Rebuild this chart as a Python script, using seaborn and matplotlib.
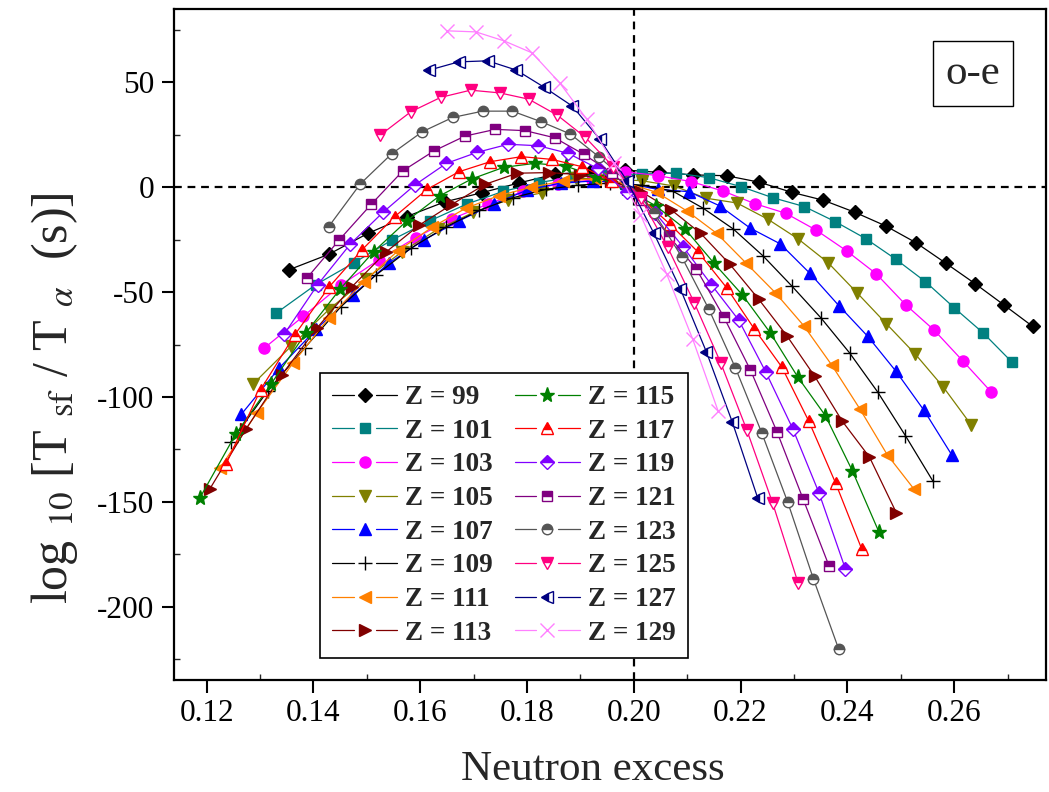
import matplotlib
matplotlib.use("Agg")
import matplotlib.pyplot as plt
import seaborn as sns
import pandas as pd
import numpy as np
from matplotlib.ticker import MultipleLocator, FormatStrFormatter
from matplotlib.lines import Line2D
from matplotlib.legend_handler import HandlerLine2D

# ---------------- data (neutron excess, log10 Tsf/Talpha) ----------------
x99 = [0.13537, 0.14286, 0.15021, 0.15745, 0.16456, 0.17155, 0.17842, 0.18519, 0.19184, 0.19838, 0.20482, 0.21116,
       0.21739, 0.22353, 0.22957, 0.23552, 0.24138, 0.24715, 0.25283, 0.25843, 0.26394, 0.26937, 0.27473]
y99 = [-39.4, -32.0, -22, -14, -7, -2.6, 2, 6.2, 7.5, 8.2, 7.1, 5.9, 5.5, 2.4, -2.4, -6.2, -11.9, -18.4, -26.4,
       -36.2, -46.0, -56.2, -66.4]

x101 = [0.13305, 0.14043, 0.14768, 0.15481, 0.16183, 0.16872, 0.17551, 0.18219, 0.18876, 0.19522, 0.20158, 0.20784,
        0.21401, 0.22008, 0.22605, 0.23194, 0.23774, 0.24345, 0.24907, 0.25461, 0.26007, 0.26545, 0.27076]
y101 = [-60, -46.5, -35.9, -25, -16, -8, -2, 2.2, 5, 6, 6.3, 6.8, 4.6, 0.3, -5, -9.2, -16.4, -24.5, -34.3, -45,
        -57.6, -69.5, -83.2]

x103 = [0.13080, 0.13808, 0.14523, 0.15226, 0.15918, 0.16599, 0.17269, 0.17928, 0.18577, 0.19216, 0.19844, 0.20463,
        0.21073, 0.21673, 0.22264, 0.22846, 0.23420, 0.23985, 0.24542, 0.25091, 0.25632, 0.26165, 0.26690]
y103 = [-76.7, -61.6, -46.5, -34.6, -24, -15, -8, -2, 1.5, 3.5, 7.4, 5.5, 2.7, -1.8, -7.8, -12.4, -20.5, -30.3,
        -41.3, -56, -68.3, -82.9, -97.5]

x105 = [0.12863, 0.13580, 0.14286, 0.14980, 0.15663, 0.16335, 0.16996, 0.17647, 0.18288, 0.18919, 0.19540, 0.20152,
        0.20755, 0.21348, 0.21933, 0.22509, 0.23077, 0.23636, 0.24188, 0.24731, 0.25267, 0.25795, 0.26316]
y105 = [-94, -75.9, -58.4, -43.8, -30.7, -20, -12, -6, -2.6, 4.3, 4, 3.1, 0.6, -5.2, -7.5, -15.2, -24.6, -35.9,
        -50.5, -65.1, -79.4, -95.2, -113.2]

x107 = [0.12653, 0.13360, 0.14056, 0.14741, 0.15415, 0.16078, 0.16732, 0.17375, 0.18008, 0.18631, 0.19245, 0.19850,
        0.20446, 0.21033, 0.21612, 0.22182, 0.22744, 0.23297, 0.23843, 0.24382, 0.24912, 0.25436, 0.25952]
y107 = [-108.2, -86.2, -67.6, -51.3, -36.2, -25, -16, -8, -1.3, 2, 3, 2, -1, -2.1, -8.9, -19.5, -27, -41, -56.5,
        -71.1, -87.8, -106.4, -127.5]

x109 = [0.12450, 0.13147, 0.13834, 0.14510, 0.15175, 0.15830, 0.16475, 0.17110, 0.17736, 0.18352, 0.18959, 0.19557,
        0.20147, 0.20727, 0.21300, 0.21864, 0.22420, 0.22968, 0.23509, 0.24042, 0.24567, 0.25086, 0.25597]
y109 = [-121.6, -97, -76.7, -57.1, -41.8, -29, -19, -11, -5, -1, 1, 2, 1, -1.8, -10, -19.9, -32.7, -47.3, -62.4,
        -79, -97.6, -118.4, -139.9]

x111 = [0.12253, 0.12941, 0.13619, 0.14286, 0.14943, 0.15589, 0.16226, 0.16854, 0.17472, 0.18081, 0.18681, 0.19273,
        0.19856, 0.20430, 0.20996, 0.21555, 0.22105, 0.22648, 0.23183, 0.23711, 0.24232, 0.24746, 0.25253]
y111 = [-133.8, -107.6, -83.8, -62.4, -45, -30.2, -19, -10, -4, 0, 3, 4, 2, -2.4, -11.3, -22, -36.2, -50.2, -66,
        -84.9, -105.6, -127.5, -144.1]

x113 = [0.12062, 0.12741, 0.13410, 0.14068, 0.14717, 0.15356, 0.15985, 0.16605, 0.17216, 0.17818, 0.18412, 0.18996,
        0.19573, 0.20141, 0.20702, 0.21254, 0.21799, 0.22337, 0.22867, 0.23390, 0.23906, 0.24415, 0.24917]
y113 = [-143.8, -115.2, -89.4, -67.1, -47.6, -31, -18, -8, 1.4, 6.7, 7, 6, 3, -2.1, -10.8, -22, -36.7, -53.3,
        -70.8, -90.2, -111.6, -128.7, -155.2]

x115 = [0.11877, 0.12548, 0.13208, 0.13858, 0.14498, 0.15129, 0.15751, 0.16364, 0.16968, 0.17563, 0.18149, 0.18728,
        0.19298, 0.19861, 0.20415, 0.20962, 0.21502, 0.22034, 0.22559, 0.23077, 0.23588, 0.24092, 0.24590]
y115 = [-148, -117.6, -93.8, -69.5, -48.6, -30.7, -16, -4.1, 4, 9.5, 11.4, 10.1, 5.0, -1, -8.9, -19.9, -36.2,
        -51.3, -69.5, -90.7, -108.9, -135.1, -164.3]

x117 = [0.12360, 0.13011, 0.13653, 0.14286, 0.14909, 0.15523, 0.16129, 0.16726, 0.17314, 0.17895, 0.18467, 0.19031,
        0.19588, 0.20137, 0.20678, 0.21212, 0.21739, 0.22259, 0.22772, 0.23279, 0.23779, 0.24272]
y117 = [-132.2, -96.5, -70.3, -47.8, -29.9, -14, -1, 7.4, 12.2, 14.6, 13.3, 9.8, 3, -5.2, -17.6, -31.1, -47.9,
        -67.6, -85.7, -111.6, -141, -172.7]

x119 = [0.13455, 0.14079, 0.14695, 0.15302, 0.15901, 0.16491, 0.17073, 0.17647, 0.18213, 0.18771, 0.19322, 0.19865,
        0.20401, 0.20930, 0.21452, 0.21967, 0.22476, 0.22977, 0.23473, 0.23962]
y119 = [-70, -46.5, -27, -12, 1.1, 11.4, 16.7, 20.5, 19.8, 16.2, 9, -2.1, -12.1, -28.6, -46.4, -63.4, -88.3,
        -115.1, -146, -181.9]

x121 = [0.13879, 0.14488, 0.15088, 0.15679, 0.16263, 0.16838, 0.17406, 0.17966, 0.18519, 0.19064, 0.19601, 0.20132,
        0.20656, 0.21173, 0.21683, 0.22186, 0.22684, 0.23175, 0.23659]
y121 = [-43.3, -25, -8, 7.9, 17.4, 24.4, 27.6, 27, 23.6, 15.7, 6.7, -6, -23.2, -39, -61.7, -87.2, -116.7, -148.9,
        -180.7]

x123 = [0.14286, 0.14879, 0.15464, 0.16041, 0.16610, 0.17172, 0.17726, 0.18272, 0.18812, 0.19344, 0.19870, 0.20388,
        0.20900, 0.21406, 0.21905, 0.22397, 0.22884, 0.23364, 0.23839]
y123 = [-18.8, 1.6, 15.9, 26.5, 33.3, 36.3, 36.3, 31.2, 25.4, 14.6, 3, -12.4, -33.3, -58.1, -86.2, -117.1, -150.2,
        -186.7, -220.3]

x125 = [0.15254, 0.15825, 0.16388, 0.16944, 0.17492, 0.18033, 0.18567, 0.19094, 0.19614, 0.20128, 0.20635, 0.21136,
        0.21630, 0.22118, 0.22601, 0.23077]
y125 = [24.9, 36, 42.9, 46.3, 45, 42, 34.4, 23.8, 9.8, -5.2, -28.6, -55.2, -83.8, -115.8, -150.6, -188.6]

x127 = [0.16172, 0.16721, 0.17264, 0.17799, 0.18328, 0.18850, 0.19365, 0.19874, 0.20376, 0.20872, 0.21362, 0.21846,
        0.22324]
y127 = [55.9, 59.8, 60.3, 55.9, 47.6, 38.7, 22.9, 3, -21.9, -48.4, -78.6, -112, -148.4]

x129 = [0.16505, 0.17042, 0.17572, 0.18095, 0.18612, 0.19122, 0.19626, 0.20124, 0.20615, 0.21101, 0.21581]
y129 = [74.6, 74.1, 69.8, 64.1, 49.8, 32.4, 11.4, -13, -41.3, -72.2, -106.8]

Z_values = [99, 101, 103, 105, 107, 109, 111, 113, 115, 117, 119, 121, 123, 125, 127, 129]
X_DATA = [x99, x101, x103, x105, x107, x109, x111, x113, x115, x117, x119, x121, x123, x125, x127, x129]
Y_DATA = [y99, y101, y103, y105, y107, y109, y111, y113, y115, y117, y119, y121, y123, y125, y127, y129]

# ---------------- styles ----------------
COLORS = ['#000000', '#008080', '#FF00FF', '#808000', '#0000FF', '#000000', '#FF8000', '#800000',
          '#008000', '#FF0000', '#8000FF', '#800080', '#555555', '#FF0080', '#000080', '#FF80FF']
MARKERS = ['D', 's', 'o', 'v', '^', '+', '<', '>', '*', '^', 'D', 's', 'o', 'v', '<', 'x']
FILLS = ['full'] * 9 + ['top', 'top', 'top', 'top', 'top', 'left', 'full']
SIZES = [7.5, 7, 8, 9, 9, 9.5, 9, 9, 11, 9, 7.5, 7, 7.5, 9, 9, 10]

sns.set_theme(style="ticks")
plt.rcParams["font.family"] = ["Liberation Serif", "DejaVu Serif"]
plt.rcParams["mathtext.fontset"] = "stix"
plt.rcParams["axes.unicode_minus"] = False

fig = plt.figure(figsize=(10.49, 7.92), dpi=100)
ax = fig.add_axes([0.1659, 0.1414, 0.8312, 0.8472])

ax.axhline(0, color="black", lw=1.6, ls=(0, (3.5, 2.6)), zorder=1)
ax.axvline(0.20, color="black", lw=1.6, ls=(0, (3.5, 2.6)), zorder=1)

for i, Z in enumerate(Z_values):
    df = pd.DataFrame({"ne": X_DATA[i], "lg": Y_DATA[i]})
    col = COLORS[i]
    sns.lineplot(data=df, x="ne", y="lg", ax=ax, sort=False, estimator=None,
                 color=col, lw=0.9, label=f"Z = {Z}",
                 marker=MARKERS[i], markersize=SIZES[i], fillstyle=FILLS[i],
                 markerfacecolor=col, markerfacecoloralt="white",
                 markeredgecolor=col, markeredgewidth=1.0, zorder=3 + i)

ax.set_xlim(0.1139, 0.2772)
ax.set_ylim(-235, 85)

ax.xaxis.set_major_locator(MultipleLocator(0.02))
ax.xaxis.set_minor_locator(MultipleLocator(0.01))
ax.yaxis.set_major_locator(MultipleLocator(50))
ax.yaxis.set_minor_locator(MultipleLocator(25))
ax.xaxis.set_major_formatter(FormatStrFormatter("%.2f"))
ax.tick_params(which="major", direction="out", length=9, width=1.5, labelsize=22.5, pad=5,
               top=False, right=False, colors="black")
ax.tick_params(which="minor", direction="in", length=4, width=1.0, top=False, right=False)
for s in ax.spines.values():
    s.set_linewidth(1.6)
    s.set_color("black")

ax.set_xlabel("Neutron excess", fontsize=31)
ax.set_ylabel(r"log $_{10}$ [T $_{\rm sf}$ / T $_{\alpha}$  (s)]", fontsize=36)
ax.xaxis.set_label_coords(0.48, -0.105)
ax.yaxis.set_label_coords(-0.108, 0.42)

ax.text(0.9163, 0.9039, "o-e", transform=ax.transAxes, fontsize=31, ha="center", va="center",
        bbox=dict(boxstyle="square,pad=0.3", fc="white", ec="black", lw=1.0), zorder=20)


class GapHandler(HandlerLine2D):
    def create_artists(self, legend, orig_handle, xdescent, ydescent, width, height, fontsize, trans):
        y = (height - ydescent) / 2.0
        x0 = -xdescent
        x1 = -xdescent + width
        xm = 0.5 * (x0 + x1)
        g = 0.17 * width
        l1 = Line2D([x0, xm - g], [y, y])
        l2 = Line2D([xm + g, x1], [y, y])
        m = Line2D([xm], [y])
        for a in (l1, l2):
            self.update_prop(a, orig_handle, legend)
            a.set_marker("None")
            a.set_transform(trans)
        self.update_prop(m, orig_handle, legend)
        m.set_linestyle("None")
        m.set_transform(trans)
        return [l1, l2, m]


handles, labels = ax.get_legend_handles_labels()
leg = ax.legend(handles, labels, ncol=2, loc="lower left", bbox_to_anchor=(0.1674, 0.0328),
                borderaxespad=0, prop={"weight": "bold", "size": 19.5}, frameon=True, fancybox=False,
                edgecolor="black", framealpha=1, handlelength=2.4, handletextpad=0.3,
                columnspacing=0.8, labelspacing=0.32, borderpad=0.45, markerscale=0.75,
                handler_map={Line2D: GapHandler()})
leg.get_frame().set_linewidth(1.2)
leg.set_zorder(30)

fig.savefig("out.png", dpi=100)
